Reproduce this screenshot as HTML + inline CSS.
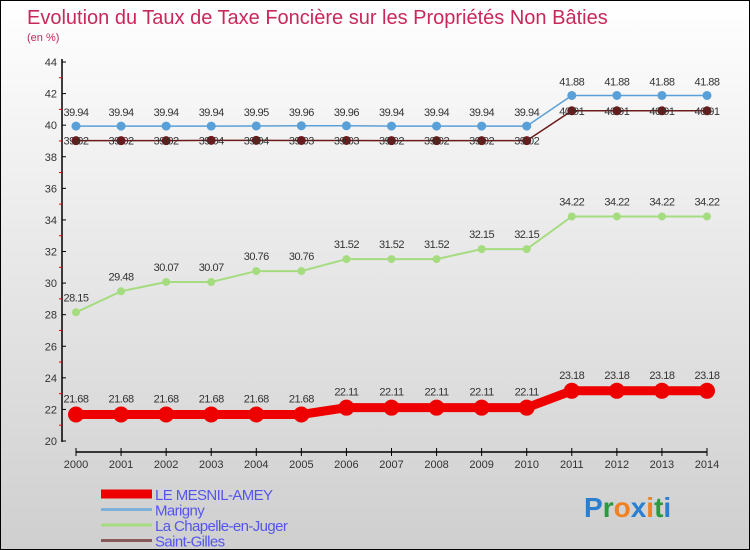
<!DOCTYPE html>
<html><head><meta charset="utf-8"><style>
body{margin:0}
#wrap{position:relative;width:748px;height:548px;border:1px solid #000;background:linear-gradient(#ffffff,#f0f0f0 30%,#cfcfcf);font-family:"Liberation Sans",sans-serif;overflow:hidden}
svg{position:absolute;left:0;top:0}
</style></head><body>
<div id="wrap">
<svg id="c" width="750" height="550"></svg>
</div>
<script>
const years=[2000,2001,2002,2003,2004,2005,2006,2007,2008,2009,2010,2011,2012,2013,2014];
const yTicks=[20,22,24,26,28,30,32,34,36,38,40,42,44];
const mesnil=[21.68,21.68,21.68,21.68,21.68,21.68,22.11,22.11,22.11,22.11,22.11,23.18,23.18,23.18,23.18];
const marigny=[39.94,39.94,39.94,39.94,39.95,39.96,39.96,39.94,39.94,39.94,39.94,41.88,41.88,41.88,41.88];
const chapelle=[28.15,29.48,30.07,30.07,30.76,30.76,31.52,31.52,31.52,32.15,32.15,34.22,34.22,34.22,34.22];
const gilles=[39.02,39.02,39.02,39.04,39.04,39.03,39.03,39.02,39.02,39.02,39.02,40.91,40.91,40.91,40.91];
const svg=document.getElementById('c');const NS='http://www.w3.org/2000/svg';
const X=i=>75+i*(631/14);const Y=v=>440-(v-20)*(379/24);
function mk(t,a,p){const e=document.createElementNS(NS,t);for(const k in a)e.setAttribute(k,a[k]);(p||svg).appendChild(e);return e;}
let t=mk('text',{x:26,y:23,'font-size':20,fill:'#c8285a'});t.textContent='Evolution du Taux de Taxe Foncière sur les Propriétés Non Bâties';

t=mk('text',{x:26,y:40,'font-size':11,fill:'#c8285a'});t.textContent='(en %)';

// axes
let a=mk('line',{x1:61,y1:58,x2:61,y2:441,stroke:'#000','stroke-width':1.5});
a=mk('line',{x1:75,y1:451,x2:706,y2:451,stroke:'#000','stroke-width':1.5});
yTicks.forEach(v=>{const y=Y(v);mk('line',{x1:61,y1:y,x2:65,y2:y,stroke:'#000'});
if(v<44)mk('line',{x1:58,y1:Y(v+1),x2:61,y2:Y(v+1),stroke:'#e00'});
const l=mk('text',{x:56,y:y+4,'font-size':11,fill:'#333','text-anchor':'end'});l.textContent=v;
});
years.forEach((yr,i)=>{mk('line',{x1:X(i),y1:447,x2:X(i),y2:455,stroke:'#000'});
const l=mk('text',{x:X(i),y:467,'font-size':11,fill:'#333','text-anchor':'middle'});l.textContent=yr;
});
function series(vals,color,w,r,name,dy){const g=mk('g',{});
mk('polyline',{points:vals.map((v,i)=>X(i)+','+Y(v)).join(' '),fill:'none',stroke:color,'stroke-width':w},g);
vals.forEach((v,i)=>{const c=mk('circle',{cx:X(i),cy:Y(v),r:r,fill:color},g);
const l=mk('text',{x:X(i),y:Y(v)+dy,'font-size':11,fill:'#333','text-anchor':'middle','letter-spacing':'-0.5'},g);l.textContent=v.toFixed(2);
});}
series(chapelle,'#a6dc80',2,4,'la-chapelle','#88d040'&&-11);
series(gilles,'#6b1a1a',1.5,4.5,'saint-gilles',4);
series(marigny,'#5aa0d8',1.5,4.5,'marigny',-10);
series(mesnil,'#ee0000',9,8,'le-mesnil-amey',-12);
// legend
const leg=[['LE MESNIL-AMEY','#ee0000',9],['Marigny','#7fb0d8',3],['La Chapelle-en-Juger','#a6dc80',3],['Saint-Gilles','#8a5a5a',3]];
leg.forEach((e,i)=>{const y=493+i*15.5;const g=mk('g',{});
mk('line',{x1:100,y1:y,x2:151,y2:y,stroke:e[1],'stroke-width':e[2]},g);
const l=mk('text',{x:154,y:y+6,'font-size':15,fill:'#5555ee','letter-spacing':'-0.6'},g);l.textContent=e[0];});
const p=mk('text',{x:583,y:516,'font-size':28,'font-weight':'bold'});
[['P','#2a7fd0'],['r','#2a9a40'],['o','#f08020'],['x','#2a7fd0'],['i','#f08020'],['t','#2a9a40'],['i','#2a7fd0']].forEach(c=>{const s=mk('tspan',{fill:c[1]},p);s.textContent=c[0];});
</script>
</body></html>
